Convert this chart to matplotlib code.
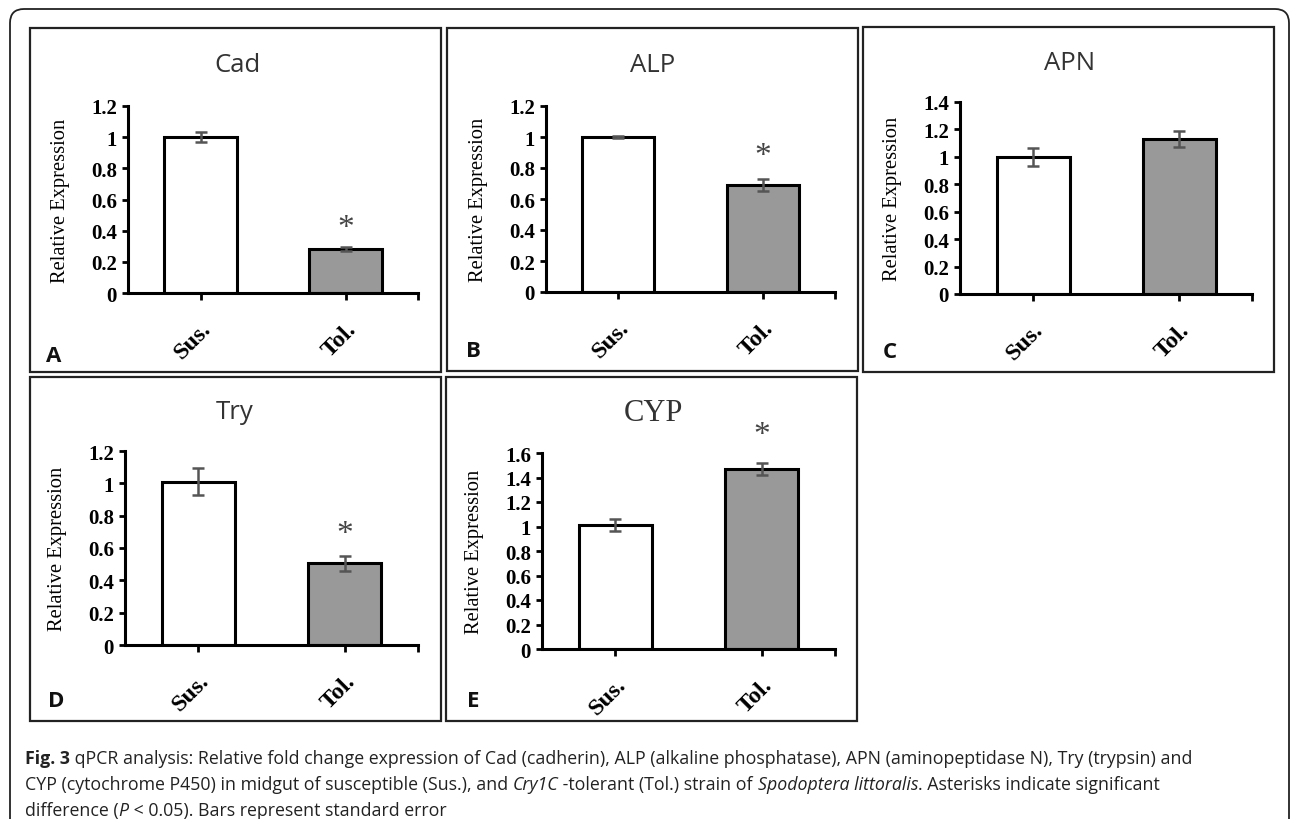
import matplotlib.pyplot as plt
from matplotlib.patches import Rectangle, FancyBboxPatch
from matplotlib.transforms import IdentityTransform

W, H = 1292, 820

groups = ['Sus.', 'Tol.']
genes = ['Cad', 'ALP', 'APN', 'Try', 'CYP']
letters = ['A', 'B', 'C', 'D', 'E']
means = {
    'Cad': [1.0, 0.28],
    'ALP': [1.0, 0.69],
    'APN': [1.0, 1.13],
    'Try': [1.01, 0.505],
    'CYP': [1.01, 1.47],
}
errors = {
    'Cad': [0.03, 0.012],
    'ALP': [0.006, 0.04],
    'APN': [0.065, 0.055],
    'Try': [0.085, 0.045],
    'CYP': [0.05, 0.05],
}
ymax = {'Cad': 1.2, 'ALP': 1.2, 'APN': 1.4, 'Try': 1.2, 'CYP': 1.6}
star_y = {'Cad': 0.42, 'ALP': 0.88, 'Try': 0.69, 'CYP': 1.75}

# pixel layout: axes (left, right, top, bottom), panel box, title, letter
axes_px = {
    'Cad': (128, 418, 107, 294),
    'ALP': (546, 835, 107, 293),
    'APN': (960, 1252, 103, 295),
    'Try': (125, 418, 452, 646),
    'CYP': (542, 835, 454, 650),
}
box_px = {
    'Cad': (30, 29, 441, 373),
    'ALP': (447, 29, 858, 372),
    'APN': (863, 28, 1274, 373),
    'Try': (30, 378, 441, 722),
    'CYP': (446, 378, 857, 722),
}
title_px = {'Cad': (237, 66), 'ALP': (653, 66), 'APN': (1070, 64),
            'Try': (235, 413), 'CYP': (653, 414)}
letter_px = {'Cad': (46, 362), 'ALP': (466, 357), 'APN': (883, 358),
             'Try': (48, 707), 'CYP': (467, 707)}

SANS = 'Open Sans'
SERIF = 'Liberation Serif'

fig = plt.figure(figsize=(W / 100, H / 100), dpi=100)


def fx(x):
    return x / W


def fy(y):
    return 1 - y / H


ident = IdentityTransform()

# outer rounded frame
frame = FancyBboxPatch((10, -40), 1279, 850, boxstyle='round,pad=0,rounding_size=14',
                       transform=ident, fill=False, ec='#222222', lw=1.3)
fig.add_artist(frame)

for gene, letter in zip(genes, letters):
    x0, y0, x1, y1 = box_px[gene]
    fig.add_artist(Rectangle((x0, H - y1), x1 - x0, y1 - y0, transform=ident,
                             fill=False, ec='#222222', lw=1.6))

    l, r, t, b = axes_px[gene]
    ax = fig.add_axes([fx(l), fy(b), (r - l) / W, (b - t) / H])
    ax.bar([0, 1], means[gene], width=0.5, color=['white', '#999999'],
           edgecolor='black', linewidth=2.2, zorder=2)
    ax.errorbar([0, 1], means[gene], yerr=errors[gene], fmt='none',
                ecolor='#555555', elinewidth=1.8, capsize=4, capthick=1.8, zorder=3)
    ax.set_xlim(-0.5, 1.5)
    ax.set_ylim(0, ymax[gene])
    ax.set_yticks([round(0.2 * i, 1) for i in range(int(round(ymax[gene] / 0.2)) + 1)])
    ax.set_yticklabels(['0' if v == 0 else ('1' if v == 1 else f'{v:g}')
                        for v in ax.get_yticks()],
                       fontfamily=SERIF, fontweight='bold', fontsize=15)
    ax.set_xticks([0, 1])
    ax.set_xticks([1.5], minor=True)
    ax.set_xticklabels(groups, rotation=45, ha='right', va='top',
                       rotation_mode='anchor', fontfamily=SERIF,
                       fontweight='bold', fontsize=17.5)
    ax.tick_params(axis='x', which='both', length=5, width=2, pad=13)
    ax.tick_params(axis='y', length=4, width=2, pad=4)
    for s in ['top', 'right']:
        ax.spines[s].set_visible(False)
    for s in ['left', 'bottom']:
        ax.spines[s].set_linewidth(2.2)
    ax.set_ylabel('Relative Expression', fontfamily=SERIF, fontsize=14.8)
    ax.yaxis.set_label_coords(-58 / (r - l), 0.5)

    if gene in star_y:
        ax.text(1, star_y[gene], '*', ha='center', va='center', fontfamily=SERIF,
                fontsize=24, color='#444444', clip_on=False)

    tx, ty = title_px[gene]
    if gene == 'CYP':
        fig.text(fx(tx), fy(ty), gene, ha='center', va='center', fontfamily=SERIF,
                 fontsize=22, color='#333333')
    else:
        fig.text(fx(tx), fy(ty), gene, ha='center', va='center', fontfamily=SANS,
                 fontsize=18.5, color='#333333')
    lx, ly = letter_px[gene]
    fig.text(fx(lx), fy(ly), letter, ha='left', va='baseline', fontfamily=SANS,
             fontweight='bold', fontsize=16, color='#111111')

# caption with mixed styles
caption = [
    [('Fig. 3', 'bold', 'normal'),
     (' qPCR analysis: Relative fold change expression of Cad (cadherin), ALP (alkaline phosphatase), '
      'APN (aminopeptidase N), Try (trypsin) and', 'normal', 'normal')],
    [('CYP (cytochrome P450) in midgut of susceptible (Sus.), and ', 'normal', 'normal'),
     ('Cry1C', 'normal', 'italic'),
     (' -tolerant (Tol.) strain of ', 'normal', 'normal'),
     ('Spodoptera littoralis', 'normal', 'italic'),
     ('. Asterisks indicate significant', 'normal', 'normal')],
    [('difference (', 'normal', 'normal'), ('P', 'normal', 'italic'),
     (' < 0.05). Bars represent standard error', 'normal', 'normal')],
]
baselines = [764, 790, 816]
renderer = fig.canvas.get_renderer()
for runs, base in zip(caption, baselines):
    x = 25
    for txt, weight, style in runs:
        t = fig.text(fx(x), fy(base), txt, ha='left', va='baseline', fontfamily=SANS,
                     fontweight=weight, fontstyle=style, fontsize=12.8, color='#222222')
        x += t.get_window_extent(renderer).width

fig.savefig('out.png', dpi=100)
